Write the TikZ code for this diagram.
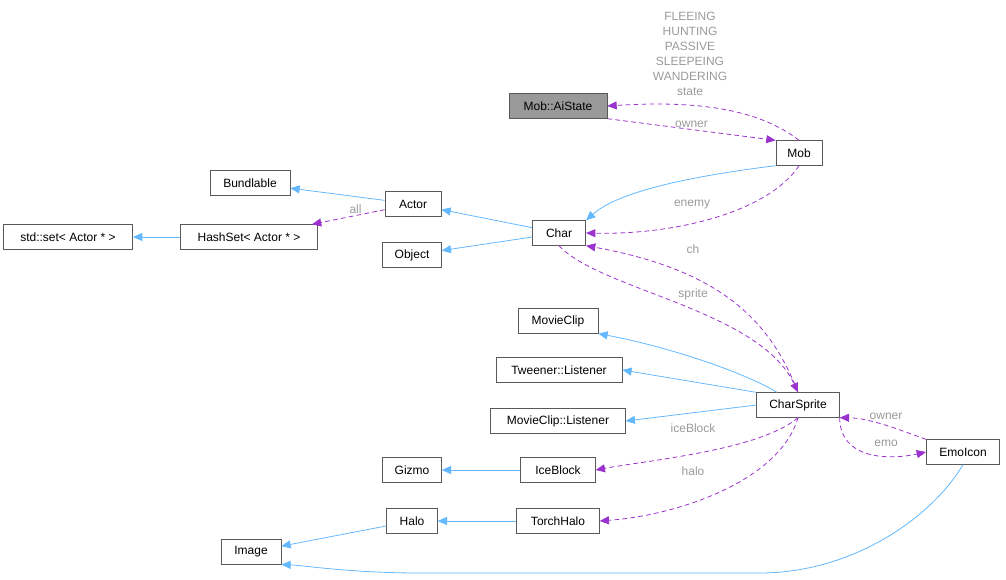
\documentclass[tikz,border=0pt]{standalone}
\usepackage{fontspec}
\setmainfont{Liberation Sans}
\usetikzlibrary{arrows.meta}
\definecolor{inh}{HTML}{63B8FF}
\definecolor{use}{HTML}{9A32CD}
\definecolor{lbl}{HTML}{9A9A9A}
\begin{document}
\begin{tikzpicture}[x=0.75pt,y=-0.75pt,
  box/.style={draw=black!65,fill=white,minimum height=18.5pt,inner xsep=3pt,font=\fontsize{9}{10}\selectfont,line width=0.5pt},
  inhe/.style={draw=inh,line width=0.6pt,-{Triangle[length=7pt,width=6pt,fill=inh]}},
  usee/.style={draw=use,line width=0.6pt,dash pattern=on 3.5pt off 2.5pt,-{Triangle[length=7pt,width=6pt,fill=use]}},
  lab/.style={text=lbl,font=\fontsize{9}{10}\selectfont,inner sep=1pt}]
\useasboundingbox (0,0) rectangle (1006,579);
\node[box,fill=black!40,minimum width=73.5pt] (ai) at (558,106) {Mob::AiState};
\node[box,minimum width=34.5pt] (mob) at (799,153) {Mob};
\node[box,minimum width=60pt] (bun) at (250,183) {Bundlable};
\node[box,minimum width=42pt] (actor) at (413,204) {Actor};
\node[box,minimum width=97pt] (std) at (68,237) {std::set< Actor * >};
\node[box,minimum width=103pt] (hash) at (249,237) {HashSet< Actor * >};
\node[box,minimum width=40pt] (char) at (559,233) {Char};
\node[box,minimum width=44pt] (obj) at (412,255) {Object};
\node[box,minimum width=60pt] (mc) at (558,321) {MovieClip};
\node[box,minimum width=94.5pt] (tw) at (559,370) {Tweener::Listener};
\node[box,minimum width=62pt] (cs) at (798,405) {CharSprite};
\node[box,minimum width=101pt] (mcl) at (558,421) {MovieClip::Listener};
\node[box,minimum width=44pt] (giz) at (412,470) {Gizmo};
\node[box,minimum width=56pt] (ice) at (558,470) {IceBlock};
\node[box,minimum width=55pt] (emo) at (963,452) {EmoIcon};
\node[box,minimum width=38pt] (halo) at (412,521) {Halo};
\node[box,minimum width=62pt] (th) at (558,521) {TorchHalo};
\node[box,minimum width=45pt] (img) at (251,552) {Image};
% inheritance
\draw[inhe] (actor) -- (bun);
\draw[inhe] (char) -- (actor);
\draw[inhe] (char) -- (obj);
\draw[inhe] (hash) -- (std);
\draw[inhe] (mob.south west) .. controls (700,175) and (620,190) .. (char.north east);
\draw[inhe] (cs) .. controls (740,370) and (660,345) .. (mc.south east);
\draw[inhe] (cs.north west) -- (tw.east);
\draw[inhe] (cs.west) -- (mcl.east);
\draw[inhe] (ice) -- (giz);
\draw[inhe] (th) -- (halo);
\draw[inhe] (halo) -- (img);
\draw[inhe] (emo.south) .. controls (930,520) and (850,573) .. (760,573) -- (420,573) .. controls (350,573) and (300,565) .. (img.south east);
% usage
\draw[usee] (actor) -- node[lab,above,pos=0.4]{all} (hash);
\draw[usee] (mob.north) .. controls (760,110) and (700,100) .. (ai.east);
\node[lab,align=center,font=\fontsize{9}{11.3}\selectfont] at (690,54) {FLEEING\\HUNTING\\PASSIVE\\SLEEPEING\\WANDERING\\state};
\draw[usee] (ai.south east) -- node[lab,above,pos=0.5]{owner} (mob.north west);
\draw[usee] (mob.south) .. controls (770,210) and (680,235) .. (char.east);
\node[lab] at (692,205) {enemy};
\draw[usee] (cs.north) .. controls (770,320) and (720,270) .. (char.south east);
\node[lab] at (693,249) {ch};
\draw[usee] (char.south) .. controls (600,290) and (760,310) .. (cs.north);
\node[lab] at (693,294) {sprite};
\draw[usee] (cs.south) .. controls (760,450) and (650,460) .. (ice.east);
\node[lab] at (693,428) {iceBlock};
\draw[usee] (cs.south) .. controls (780,480) and (680,515) .. (th.east);
\node[lab] at (693,471) {halo};
\draw[usee] (emo.north west) .. controls (900,430) and (870,418) .. (cs.south east);
\node[lab] at (886,416) {owner};
\draw[usee] (cs.south east) .. controls (840,460) and (890,460) .. (emo.west);
\node[lab] at (886,443) {emo};
\end{tikzpicture}
\end{document}
